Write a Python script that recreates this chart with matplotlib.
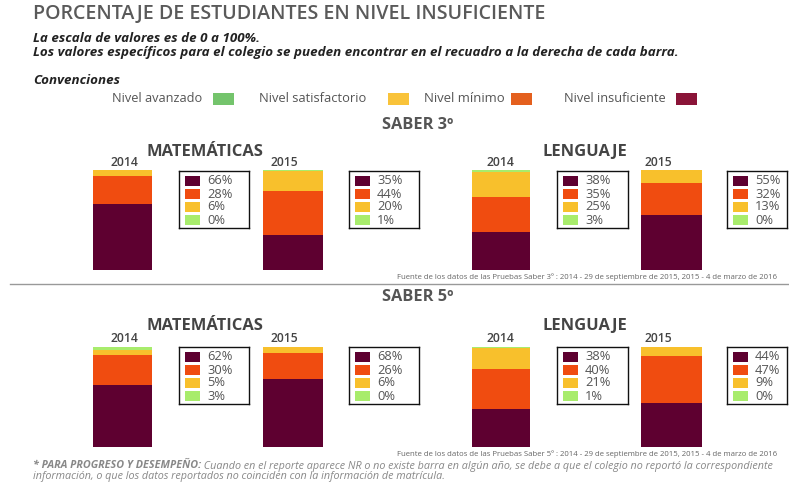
import matplotlib
matplotlib.use("Agg")
import matplotlib.pyplot as plt
from matplotlib.patches import Rectangle

plt.rcParams['font.family'] = ['Open Sans', 'DejaVu Sans']

# ---------------- data ----------------
levels = ["Nivel insuficiente", "Nivel mínimo", "Nivel satisfactorio", "Nivel avanzado"]
legend_order = ["Nivel avanzado", "Nivel satisfactorio", "Nivel mínimo", "Nivel insuficiente"]
years = ["2014", "2015"]
subjects = ["MATEMÁTICAS", "LENGUAJE"]
grades = ["SABER 3º", "SABER 5º"]

# values per level: [insuficiente, minimo, satisfactorio, avanzado]
saber3_mat_2014 = [66, 28, 6, 0]
saber3_mat_2015 = [35, 44, 20, 1]
saber3_len_2014 = [38, 35, 25, 3]
saber3_len_2015 = [55, 32, 13, 0]
saber5_mat_2014 = [62, 30, 5, 3]
saber5_mat_2015 = [68, 26, 6, 0]
saber5_len_2014 = [38, 40, 21, 1]
saber5_len_2015 = [44, 47, 9, 0]

bar_colors = ["#5e0030", "#f04c10", "#f8c02c", "#a8ec6c"]
legend_colors = {"Nivel avanzado": "#74c46c", "Nivel satisfactorio": "#f9c33a",
                 "Nivel mínimo": "#e4601e", "Nivel insuficiente": "#8a1438"}

W, H = 789, 482
fig = plt.figure(figsize=(W / 100, H / 100), dpi=100)
fig.patch.set_facecolor("white")
renderer = fig.canvas.get_renderer()


def P(x, y):
    return x / W, 1 - y / H


def add_px_axes(x0, y0, x1, y1):
    return fig.add_axes([x0 / W, 1 - y1 / H, (x1 - x0) / W, (y1 - y0) / H])


def width_px(t):
    return t.get_window_extent(renderer).width


def fit_text(x0, x1, y, s, ha="left", **kw):
    """Place text so that it spans x0..x1 pixels."""
    xa = x0 if ha == "left" else (x1 if ha == "right" else (x0 + x1) / 2)
    t = fig.text(*P(xa, y), s, ha=ha, va="center", fontsize=10, **kw)
    t.set_fontsize(10 * (x1 - x0) / width_px(t))
    return t


GRAY = "#555555"

# ---------------- header ----------------
fit_text(33, 545, 14, "PORCENTAJE DE ESTUDIANTES EN NIVEL INSUFICIENTE",
         fontweight="semibold", color="#5a5a5a")
t1 = fit_text(33, 680, 52, "Los valores específicos para el colegio se pueden encontrar en el recuadro a la derecha de cada barra.",
              fontweight="bold", style="italic", color="#222222")
sub_fs = t1.get_fontsize()
fig.text(*P(33, 38), "La escala de valores es de 0 a 100%.", fontsize=sub_fs,
         fontweight="bold", style="italic", color="#222222", va="center")
fig.text(*P(33, 80), "Convenciones", fontsize=sub_fs, fontweight="bold", style="italic",
         color="#222222", va="center")

leg_text_x = [(112, 202), (259, 366), (424, 505), (564, 666)]
leg_sq_x = [213, 388, 511, 676]
for lab, (tx0, tx1) in zip(legend_order, leg_text_x):
    fit_text(tx0, tx1, 99, lab, color=GRAY)
for lab, sx in zip(legend_order, leg_sq_x):
    fig.patches.append(Rectangle(P(sx, 105), 21 / W, 12 / H, transform=fig.transFigure,
                                 facecolor=legend_colors[lab], edgecolor="none"))

# ---------------- panels ----------------
panels = {
    ("SABER 3º", "MATEMÁTICAS", "2014"): saber3_mat_2014,
    ("SABER 3º", "MATEMÁTICAS", "2015"): saber3_mat_2015,
    ("SABER 3º", "LENGUAJE", "2014"): saber3_len_2014,
    ("SABER 3º", "LENGUAJE", "2015"): saber3_len_2015,
    ("SABER 5º", "MATEMÁTICAS", "2014"): saber5_mat_2014,
    ("SABER 5º", "MATEMÁTICAS", "2015"): saber5_mat_2015,
    ("SABER 5º", "LENGUAJE", "2014"): saber5_len_2014,
    ("SABER 5º", "LENGUAJE", "2015"): saber5_len_2015,
}

bar_x = {("MATEMÁTICAS", "2014"): (93, 152), ("MATEMÁTICAS", "2015"): (263, 323),
         ("LENGUAJE", "2014"): (472, 530), ("LENGUAJE", "2015"): (641, 702)}
box_x = {("MATEMÁTICAS", "2014"): (179, 249), ("MATEMÁTICAS", "2015"): (349, 419),
         ("LENGUAJE", "2014"): (557, 628), ("LENGUAJE", "2015"): (727, 787)}
year_lab_x = {("MATEMÁTICAS", "2014"): 124, ("MATEMÁTICAS", "2015"): 284,
              ("LENGUAJE", "2014"): 500, ("LENGUAJE", "2015"): 658}
subj_x = {"MATEMÁTICAS": 205, "LENGUAJE": 585}

grade_layout = {
    "SABER 3º": dict(title_y=125, subj_y=152, year_y=163, bar_top=170, bar_bot=270,
                     box_top=171, box_bot=228, src_y=277),
    "SABER 5º": dict(title_y=297, subj_y=326, year_y=338, bar_top=347, bar_bot=447,
                     box_top=347, box_bot=404, src_y=454),
}

source_texts = {
    "SABER 3º": "Fuente de los datos de las Pruebas Saber 3º : 2014 - 29 de septiembre de 2015, 2015 - 4 de marzo de 2016",
    "SABER 5º": "Fuente de los datos de las Pruebas Saber 5º : 2014 - 29 de septiembre de 2015, 2015 - 4 de marzo de 2016",
}

for g in grades:
    L = grade_layout[g]
    fit_text(382, 453, L["title_y"], g, ha="center", fontweight="bold", color="#555555")
    fit_text(397, 777, L["src_y"], source_texts[g], ha="right", color="#666666")
    for s in subjects:
        if s == "MATEMÁTICAS":
            ts = fit_text(147, 263, L["subj_y"], s, ha="center", fontweight="bold", color="#444444")
            subj_fs = ts.get_fontsize()
        else:
            fig.text(*P(subj_x[s], L["subj_y"]), s, fontsize=subj_fs, fontweight="bold",
                     color="#444444", ha="center", va="center")
        for y in years:
            vals = panels[(g, s, y)]
            cx = year_lab_x[(s, y)]
            fit_text(cx - 14, cx + 14, L["year_y"], y, ha="center",
                     fontweight="semibold", color="#444444")
            # stacked bar
            x0, x1 = bar_x[(s, y)]
            ax = add_px_axes(x0, L["bar_top"], x1, L["bar_bot"])
            bottom = 0
            for v, c in zip(vals, bar_colors):
                ax.bar(0, v, bottom=bottom, width=1.0, color=c, edgecolor="none")
                bottom += v
            ax.set_xlim(-0.5, 0.5)
            ax.set_ylim(0, 100)
            ax.axis("off")
            # value box
            bx0, bx1 = box_x[(s, y)]
            bw = bx1 - bx0
            bh = L["box_bot"] - L["box_top"]
            axb = add_px_axes(bx0, L["box_top"], bx1, L["box_bot"])
            axb.set_xlim(0, bw)
            axb.set_ylim(bh, 0)
            axb.set_xticks([])
            axb.set_yticks([])
            for sp in axb.spines.values():
                sp.set_linewidth(1.0)
                sp.set_color("#111111")
            for i, (v, c) in enumerate(zip(vals, bar_colors)):
                cy = 10 + 13 * i
                axb.add_patch(Rectangle((6, cy - 5), 15, 10, facecolor=c, edgecolor="none"))
                axb.text(28, cy, f"{v}%", fontsize=9.3, color="#555555", va="center", ha="left")

# separator line
fig.add_artist(plt.Line2D([10 / W, 1.0], [1 - 284 / H, 1 - 284 / H], transform=fig.transFigure,
                          color="#999999", linewidth=1.0))

# footnote (bold lead-in followed by regular text, whole line fitted to 33..775 px)
fn_bold = "* PARA PROGRESO Y DESEMPEÑO:"
fn_rest = " Cuando en el reporte aparece NR o no existe barra en algún año, se debe a que el colegio no reportó la correspondiente"
fn_line2 = "información, o que los datos reportados no coinciden con la información de matrícula."
fs = 7.0
tb = fig.text(*P(33, 466), fn_bold, fontsize=fs, fontweight="bold", style="italic",
              color="#888888", va="center", ha="left")
tr = fig.text(*P(33, 466), fn_rest, fontsize=fs, style="italic", color="#888888",
              va="center", ha="left")
total = width_px(tb) + width_px(tr)
fs = fs * (775 - 33) / total
tb.set_fontsize(fs)
tr.set_fontsize(fs)
tr.set_x((33 + width_px(tb)) / W)
fig.text(*P(33, 477), fn_line2, fontsize=fs, style="italic", color="#888888",
         va="center", ha="left")

fig.savefig("out.png", dpi=100, facecolor="white")
